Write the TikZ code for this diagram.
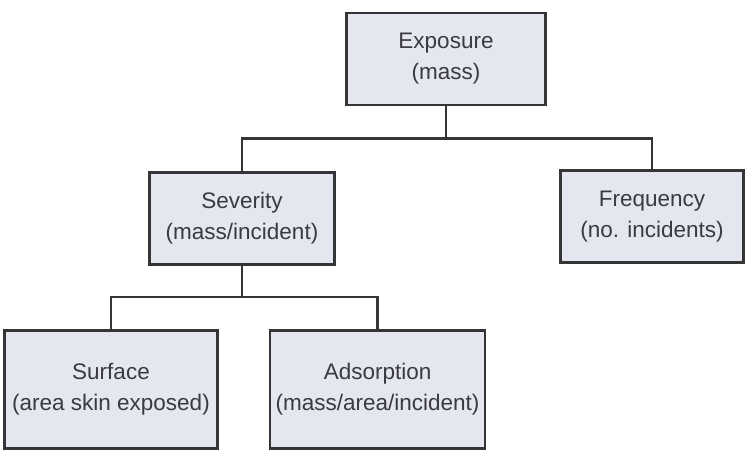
\documentclass[tikz,border=0pt]{standalone}
\usepackage{fontspec}
\setmainfont{Liberation Sans}
\usetikzlibrary{positioning}
\definecolor{boxFill}{HTML}{E4E6F0}
\definecolor{boxLine}{HTML}{353538}
\definecolor{inkGray}{HTML}{3A3A40}
\tikzset{
  boxT/.style={rectangle, draw=boxLine, fill=boxFill, line width=2.6pt,
               text=inkGray, align=center, inner sep=0pt,
               font=\fontsize{22.5}{31}\selectfont},
  link/.style={draw=boxLine, line width=2.6pt},
}

\begin{document}
\begin{tikzpicture}[x=1pt, y=1pt]
    \useasboundingbox (0,0) rectangle (748,-455);
    \node[boxT, minimum width=199pt, minimum height=92pt] (exp) at (446,-59)
         {Exposure\\(mass)};
    \node[boxT, below=65pt of exp, xshift=-204pt, minimum width=185pt,
          minimum height=92pt] (sev) {Severity\\(mass/incident)};
    \node[boxT, below=63pt of exp, xshift=206pt, minimum width=183pt,
          minimum height=92pt] (freq) {Frequency\\(no. incidents)};
    \node[boxT, below=63pt of sev, xshift=-131pt, minimum width=213pt,
          minimum height=118pt] (surf) {Surface\\(area skin exposed)};
    \node[boxT, right=50pt of surf, minimum width=215pt,
          minimum height=118pt] (ads) {Adsorption\\(mass/area/incident)};
    \draw[link] (exp.south) -- ++(0,-32) -| (sev.north);
    \draw[link] (exp.south) -- ++(0,-32) -| (freq.north);
    \draw[link] (sev.south) -- ++(0,-31) -| (surf.north);
    \draw[link] (sev.south) -- ++(0,-31) -| (ads.north);
  \end{tikzpicture}
\end{document}
